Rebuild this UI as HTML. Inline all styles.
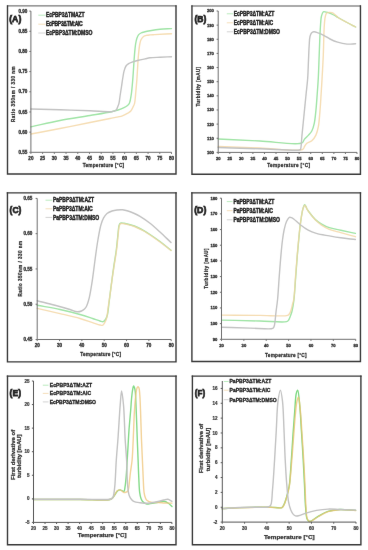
<!DOCTYPE html>
<html><head><meta charset="utf-8"><style>
html,body{margin:0;padding:0;background:#fff;}
body{width:368px;height:550px;overflow:hidden;}
svg{display:block;font-family:"Liberation Sans", sans-serif;}
</style></head><body>
<svg width="368" height="550" viewBox="0 0 368 550">
<defs><filter id="bl" x="0" y="0" width="368" height="550" filterUnits="userSpaceOnUse" primitiveUnits="userSpaceOnUse" color-interpolation-filters="sRGB"><feConvolveMatrix order="3" kernelMatrix="0.00163 0.03713 0.00163 0.03713 0.84497 0.03713 0.00163 0.03713 0.00163" edgeMode="duplicate" preserveAlpha="true"/></filter></defs>
<rect width="368" height="550" fill="#fff"/>
<g filter="url(#bl)">
<rect width="368" height="550" fill="#fff"/>
<path d="M7.50,5.90 V174.00 M176.00,5.90 V174.00 M7.50,174.00 H176.00" fill="none" stroke="#383838" stroke-width="1.40" stroke-linecap="square"/>
<path d="M7.50,5.90 H176.00" fill="none" stroke="#383838" stroke-width="0.85" stroke-linecap="square"/>
<path d="M30.90,126.90 C40.60,124.77 50.20,122.39 60.00,120.50 C69.90,118.59 80.83,117.07 90.00,115.50 C97.77,114.17 106.43,112.81 111.50,111.70 C114.31,111.08 115.90,110.69 118.00,110.00 C120.06,109.32 122.30,108.45 124.00,107.60 C125.35,106.93 126.55,106.33 127.50,105.50 C128.34,104.77 128.95,104.15 129.50,103.00 C130.37,101.15 130.71,98.14 131.20,95.00 C131.88,90.62 132.30,84.98 132.80,79.10 C133.42,71.80 133.94,60.98 134.50,54.50 C134.87,50.26 135.11,46.97 135.60,44.00 C135.97,41.77 136.33,39.83 136.90,38.20 C137.35,36.92 137.78,35.78 138.50,34.90 C139.17,34.08 140.02,33.50 141.00,33.00 C142.13,32.42 143.58,32.15 145.00,31.80 C146.57,31.41 148.04,31.14 150.00,30.80 C152.76,30.32 156.54,29.66 160.00,29.30 C163.69,28.91 167.67,28.83 171.50,28.60" fill="none" stroke="#a0e4a6" stroke-width="1.40" stroke-linejoin="round" stroke-linecap="round" opacity="1.00"/>
<path d="M30.90,134.00 C40.60,132.17 50.23,130.40 60.00,128.50 C69.93,126.57 81.01,124.30 90.00,122.50 C97.34,121.03 104.13,119.73 110.00,118.50 C114.63,117.53 119.16,116.91 122.40,115.80 C124.62,115.03 126.30,114.10 127.80,113.20 C128.98,112.49 129.96,111.96 130.80,111.00 C131.73,109.94 132.36,108.29 133.00,107.00 C133.58,105.83 134.09,105.11 134.50,103.60 C135.22,100.92 135.41,95.97 135.80,92.00 C136.21,87.82 136.52,84.09 136.90,79.10 C137.42,72.21 137.89,60.97 138.50,54.50 C138.90,50.26 139.25,46.70 139.80,44.00 C140.15,42.27 140.37,41.06 141.00,39.80 C141.61,38.57 142.46,37.25 143.50,36.50 C144.48,35.79 145.87,35.57 147.00,35.30 C148.03,35.06 148.90,35.01 150.00,34.90 C151.35,34.77 152.52,34.72 154.50,34.60 C158.35,34.37 165.83,34.00 171.50,33.70" fill="none" stroke="#f2d4a0" stroke-width="1.40" stroke-linejoin="round" stroke-linecap="round" opacity="0.80"/>
<path d="M30.90,109.00 C40.60,109.27 50.23,109.50 60.00,109.80 C69.92,110.10 80.83,110.46 90.00,110.80 C97.76,111.09 107.76,111.96 111.50,111.70 C112.84,111.61 113.37,111.52 114.20,111.20 C115.00,110.88 115.82,110.48 116.40,109.80 C117.08,109.00 117.37,107.57 117.80,106.50 C118.20,105.51 118.57,104.85 118.90,103.60 C119.45,101.51 119.77,97.79 120.20,95.00 C120.60,92.36 121.00,89.95 121.40,87.30 C121.83,84.47 122.23,81.32 122.70,78.50 C123.14,75.87 123.47,73.13 124.10,70.90 C124.62,69.06 125.12,67.27 126.00,66.00 C126.73,64.95 127.70,64.23 128.70,63.60 C129.70,62.97 130.70,62.66 132.00,62.20 C133.79,61.56 136.32,60.85 138.50,60.30 C140.66,59.75 142.98,59.34 145.00,58.90 C146.78,58.51 148.03,58.07 150.00,57.80 C152.75,57.42 156.55,57.38 160.00,57.20 C163.70,57.01 167.67,56.87 171.50,56.70" fill="none" stroke="#c2c2c2" stroke-width="1.40" stroke-linejoin="round" stroke-linecap="round" opacity="1.00"/>
<path d="M30.90,11.10 V152.30 H171.50" fill="none" stroke="#6e6e6e" stroke-width="1"/>
<text transform="translate(30.90 160.00) scale(1.000 1)" font-size="4.60" text-anchor="middle" font-weight="bold" fill="#303030" stroke="#303030" stroke-width="0.30">20</text>
<text transform="translate(42.62 160.00) scale(1.000 1)" font-size="4.60" text-anchor="middle" font-weight="bold" fill="#303030" stroke="#303030" stroke-width="0.30">25</text>
<text transform="translate(54.33 160.00) scale(1.000 1)" font-size="4.60" text-anchor="middle" font-weight="bold" fill="#303030" stroke="#303030" stroke-width="0.30">30</text>
<text transform="translate(66.05 160.00) scale(1.000 1)" font-size="4.60" text-anchor="middle" font-weight="bold" fill="#303030" stroke="#303030" stroke-width="0.30">35</text>
<text transform="translate(77.77 160.00) scale(1.000 1)" font-size="4.60" text-anchor="middle" font-weight="bold" fill="#303030" stroke="#303030" stroke-width="0.30">40</text>
<text transform="translate(89.48 160.00) scale(1.000 1)" font-size="4.60" text-anchor="middle" font-weight="bold" fill="#303030" stroke="#303030" stroke-width="0.30">45</text>
<text transform="translate(101.20 160.00) scale(1.000 1)" font-size="4.60" text-anchor="middle" font-weight="bold" fill="#303030" stroke="#303030" stroke-width="0.30">50</text>
<text transform="translate(112.92 160.00) scale(1.000 1)" font-size="4.60" text-anchor="middle" font-weight="bold" fill="#303030" stroke="#303030" stroke-width="0.30">55</text>
<text transform="translate(124.63 160.00) scale(1.000 1)" font-size="4.60" text-anchor="middle" font-weight="bold" fill="#303030" stroke="#303030" stroke-width="0.30">60</text>
<text transform="translate(136.35 160.00) scale(1.000 1)" font-size="4.60" text-anchor="middle" font-weight="bold" fill="#303030" stroke="#303030" stroke-width="0.30">65</text>
<text transform="translate(148.07 160.00) scale(1.000 1)" font-size="4.60" text-anchor="middle" font-weight="bold" fill="#303030" stroke="#303030" stroke-width="0.30">70</text>
<text transform="translate(159.78 160.00) scale(1.000 1)" font-size="4.60" text-anchor="middle" font-weight="bold" fill="#303030" stroke="#303030" stroke-width="0.30">75</text>
<text transform="translate(171.50 160.00) scale(1.000 1)" font-size="4.60" text-anchor="middle" font-weight="bold" fill="#303030" stroke="#303030" stroke-width="0.30">80</text>
<text transform="translate(27.40 153.96) scale(1.000 1)" font-size="4.60" text-anchor="end" font-weight="bold" fill="#303030" stroke="#303030" stroke-width="0.30">0.55</text>
<text transform="translate(27.40 133.78) scale(1.000 1)" font-size="4.60" text-anchor="end" font-weight="bold" fill="#303030" stroke="#303030" stroke-width="0.30">0.60</text>
<text transform="translate(27.40 113.61) scale(1.000 1)" font-size="4.60" text-anchor="end" font-weight="bold" fill="#303030" stroke="#303030" stroke-width="0.30">0.65</text>
<text transform="translate(27.40 93.44) scale(1.000 1)" font-size="4.60" text-anchor="end" font-weight="bold" fill="#303030" stroke="#303030" stroke-width="0.30">0.70</text>
<text transform="translate(27.40 73.27) scale(1.000 1)" font-size="4.60" text-anchor="end" font-weight="bold" fill="#303030" stroke="#303030" stroke-width="0.30">0.75</text>
<text transform="translate(27.40 53.10) scale(1.000 1)" font-size="4.60" text-anchor="end" font-weight="bold" fill="#303030" stroke="#303030" stroke-width="0.30">0.80</text>
<text transform="translate(27.40 32.93) scale(1.000 1)" font-size="4.60" text-anchor="end" font-weight="bold" fill="#303030" stroke="#303030" stroke-width="0.30">0.85</text>
<text transform="translate(27.40 12.76) scale(1.000 1)" font-size="4.60" text-anchor="end" font-weight="bold" fill="#303030" stroke="#303030" stroke-width="0.30">0.90</text>
<path d="M30.90,152.30 v1.6 M42.62,152.30 v1.6 M54.33,152.30 v1.6 M66.05,152.30 v1.6 M77.77,152.30 v1.6 M89.48,152.30 v1.6 M101.20,152.30 v1.6 M112.92,152.30 v1.6 M124.63,152.30 v1.6 M136.35,152.30 v1.6 M148.07,152.30 v1.6 M159.78,152.30 v1.6 M171.50,152.30 v1.6 M30.90,152.30 h-1.6 M30.90,132.13 h-1.6 M30.90,111.96 h-1.6 M30.90,91.79 h-1.6 M30.90,71.61 h-1.6 M30.90,51.44 h-1.6 M30.90,31.27 h-1.6 M30.90,11.10 h-1.6" stroke="#6e6e6e" stroke-width="1"/>
<text x="15.25" y="22.10" font-size="9.70" text-anchor="middle" font-weight="bold" fill="#222" stroke="#222" stroke-width="0.75" textLength="12.10" lengthAdjust="spacingAndGlyphs">(A)</text>
<line x1="38.30" y1="15.20" x2="45.60" y2="15.20" stroke="#a0e4a6" stroke-width="0.9" opacity="0.8"/>
<text transform="translate(46.00 17.47) scale(0.800 1)" font-size="6.30" text-anchor="start" font-weight="bold" fill="#222" stroke="#222" stroke-width="0.42" textLength="48.12" lengthAdjust="spacing">EcPBP3ΔTMAZT</text>
<line x1="38.30" y1="24.20" x2="45.60" y2="24.20" stroke="#f2d4a0" stroke-width="0.9" opacity="0.8"/>
<text transform="translate(46.00 26.47) scale(0.800 1)" font-size="6.30" text-anchor="start" font-weight="bold" fill="#222" stroke="#222" stroke-width="0.42" textLength="45.88" lengthAdjust="spacing">EcPBP3ΔTM:AIC</text>
<line x1="38.30" y1="33.00" x2="45.60" y2="33.00" stroke="#c2c2c2" stroke-width="0.9" opacity="0.8"/>
<text transform="translate(46.00 35.27) scale(0.800 1)" font-size="6.30" text-anchor="start" font-weight="bold" fill="#222" stroke="#222" stroke-width="0.42" textLength="58.00" lengthAdjust="spacing">EcPBP3ΔTM:DMSO</text>
<text transform="translate(103.40 167.22) scale(0.850 1)" font-size="5.60" text-anchor="middle" font-weight="bold" fill="#303030" stroke="#303030" stroke-width="0.28" textLength="48.82" lengthAdjust="spacing">Temperature [°C]</text>
<text transform="translate(15.00 94.30) rotate(-90) scale(0.850 1)" font-size="5.30" text-anchor="middle" font-weight="bold" fill="#303030" stroke="#303030" stroke-width="0.28" textLength="65.41" lengthAdjust="spacing">Ratio 350nm / 330 nm</text>
<path d="M191.95,6.00 V174.20 M360.45,6.00 V174.20 M191.95,174.20 H360.45" fill="none" stroke="#383838" stroke-width="1.40" stroke-linecap="square"/>
<path d="M191.95,6.00 H360.45" fill="none" stroke="#383838" stroke-width="0.85" stroke-linecap="square"/>
<path d="M218.20,139.00 C232.13,139.67 246.05,140.35 260.00,141.00 C273.98,141.65 296.63,145.64 302.00,142.90 C303.77,142.00 303.50,140.33 304.50,139.10 C305.62,137.72 307.26,136.48 308.50,135.10 C309.69,133.77 310.90,132.67 311.80,131.00 C312.89,128.98 313.56,126.45 314.20,123.60 C315.03,119.91 315.42,115.18 315.90,110.60 C316.44,105.48 316.80,99.73 317.20,94.30 C317.60,88.87 317.99,83.90 318.30,78.00 C318.67,70.99 318.87,63.04 319.20,55.00 C319.56,46.12 319.89,34.19 320.40,27.00 C320.72,22.49 320.79,18.76 321.50,16.00 C321.96,14.23 322.38,12.34 323.30,11.80 C324.01,11.39 325.08,11.94 326.00,12.10 C326.98,12.27 327.91,12.42 329.00,12.80 C330.41,13.29 332.19,14.21 333.70,15.00 C335.18,15.78 336.30,16.53 338.00,17.50 C340.45,18.89 344.02,20.90 347.00,22.50 C349.89,24.06 352.73,25.50 355.60,27.00" fill="none" stroke="#a0e4a6" stroke-width="1.40" stroke-linejoin="round" stroke-linecap="round" opacity="1.00"/>
<path d="M218.20,146.50 C232.13,147.00 245.98,147.52 260.00,148.00 C274.18,148.49 298.10,151.99 302.80,149.40 C304.12,148.67 303.86,147.48 304.50,146.50 C305.21,145.42 305.82,144.11 306.90,143.20 C308.15,142.15 310.37,142.01 311.80,140.80 C313.43,139.43 314.84,137.27 315.90,135.10 C317.07,132.70 317.66,130.13 318.30,126.90 C319.18,122.42 319.53,116.04 320.00,110.60 C320.47,105.17 320.75,99.73 321.10,94.30 C321.45,88.87 321.77,83.90 322.10,78.00 C322.50,70.99 322.96,63.05 323.30,55.00 C323.67,46.13 323.74,33.98 324.20,27.00 C324.48,22.82 324.64,19.50 325.20,17.00 C325.55,15.44 325.75,14.06 326.50,13.30 C327.12,12.68 328.12,12.51 329.00,12.40 C329.94,12.28 331.08,12.39 332.00,12.70 C332.91,13.00 333.63,13.54 334.50,14.20 C335.61,15.04 336.47,16.38 338.00,17.50 C340.23,19.13 344.02,20.90 347.00,22.50 C349.89,24.06 352.73,25.50 355.60,27.00" fill="none" stroke="#f2d4a0" stroke-width="1.40" stroke-linejoin="round" stroke-linecap="round" opacity="0.80"/>
<path d="M218.20,147.50 C232.13,147.93 246.26,148.38 260.00,148.80 C273.35,149.21 296.07,150.83 299.50,150.00 C300.05,149.87 300.13,149.90 300.40,149.50 C301.40,147.99 301.45,140.22 302.00,135.00 C302.64,128.87 303.33,121.67 304.00,115.00 C304.67,108.33 305.36,101.40 306.00,95.00 C306.59,89.10 307.28,83.75 307.70,78.00 C308.13,72.09 308.24,65.73 308.50,60.00 C308.74,54.77 308.90,49.29 309.20,45.00 C309.43,41.76 309.44,38.68 310.00,36.50 C310.37,35.04 310.77,33.79 311.50,33.00 C312.11,32.35 312.89,31.91 313.80,31.80 C314.97,31.65 316.49,32.28 318.00,32.80 C319.89,33.45 322.19,34.56 324.20,35.60 C326.19,36.63 327.90,37.95 330.00,39.00 C332.33,40.17 334.89,41.36 337.60,42.20 C340.53,43.10 343.92,43.85 347.00,44.10 C349.92,44.34 352.73,43.90 355.60,43.80" fill="none" stroke="#c2c2c2" stroke-width="1.40" stroke-linejoin="round" stroke-linecap="round" opacity="1.00"/>
<path d="M218.20,11.00 V152.40 H357.00" fill="none" stroke="#6e6e6e" stroke-width="1"/>
<text transform="translate(218.20 160.00) scale(1.000 1)" font-size="4.15" text-anchor="middle" font-weight="bold" fill="#303030" stroke="#303030" stroke-width="0.30">20</text>
<text transform="translate(229.77 160.00) scale(1.000 1)" font-size="4.15" text-anchor="middle" font-weight="bold" fill="#303030" stroke="#303030" stroke-width="0.30">25</text>
<text transform="translate(241.33 160.00) scale(1.000 1)" font-size="4.15" text-anchor="middle" font-weight="bold" fill="#303030" stroke="#303030" stroke-width="0.30">30</text>
<text transform="translate(252.90 160.00) scale(1.000 1)" font-size="4.15" text-anchor="middle" font-weight="bold" fill="#303030" stroke="#303030" stroke-width="0.30">35</text>
<text transform="translate(264.47 160.00) scale(1.000 1)" font-size="4.15" text-anchor="middle" font-weight="bold" fill="#303030" stroke="#303030" stroke-width="0.30">40</text>
<text transform="translate(276.03 160.00) scale(1.000 1)" font-size="4.15" text-anchor="middle" font-weight="bold" fill="#303030" stroke="#303030" stroke-width="0.30">45</text>
<text transform="translate(287.60 160.00) scale(1.000 1)" font-size="4.15" text-anchor="middle" font-weight="bold" fill="#303030" stroke="#303030" stroke-width="0.30">50</text>
<text transform="translate(299.17 160.00) scale(1.000 1)" font-size="4.15" text-anchor="middle" font-weight="bold" fill="#303030" stroke="#303030" stroke-width="0.30">55</text>
<text transform="translate(310.73 160.00) scale(1.000 1)" font-size="4.15" text-anchor="middle" font-weight="bold" fill="#303030" stroke="#303030" stroke-width="0.30">60</text>
<text transform="translate(322.30 160.00) scale(1.000 1)" font-size="4.15" text-anchor="middle" font-weight="bold" fill="#303030" stroke="#303030" stroke-width="0.30">65</text>
<text transform="translate(333.87 160.00) scale(1.000 1)" font-size="4.15" text-anchor="middle" font-weight="bold" fill="#303030" stroke="#303030" stroke-width="0.30">70</text>
<text transform="translate(345.43 160.00) scale(1.000 1)" font-size="4.15" text-anchor="middle" font-weight="bold" fill="#303030" stroke="#303030" stroke-width="0.30">75</text>
<text transform="translate(357.00 160.00) scale(1.000 1)" font-size="4.15" text-anchor="middle" font-weight="bold" fill="#303030" stroke="#303030" stroke-width="0.30">80</text>
<text transform="translate(213.80 153.89) scale(1.000 1)" font-size="4.15" text-anchor="end" font-weight="bold" fill="#303030" stroke="#303030" stroke-width="0.30">100</text>
<text transform="translate(213.80 139.75) scale(1.000 1)" font-size="4.15" text-anchor="end" font-weight="bold" fill="#303030" stroke="#303030" stroke-width="0.30">110</text>
<text transform="translate(213.80 125.61) scale(1.000 1)" font-size="4.15" text-anchor="end" font-weight="bold" fill="#303030" stroke="#303030" stroke-width="0.30">120</text>
<text transform="translate(213.80 111.47) scale(1.000 1)" font-size="4.15" text-anchor="end" font-weight="bold" fill="#303030" stroke="#303030" stroke-width="0.30">130</text>
<text transform="translate(213.80 97.33) scale(1.000 1)" font-size="4.15" text-anchor="end" font-weight="bold" fill="#303030" stroke="#303030" stroke-width="0.30">140</text>
<text transform="translate(213.80 83.19) scale(1.000 1)" font-size="4.15" text-anchor="end" font-weight="bold" fill="#303030" stroke="#303030" stroke-width="0.30">150</text>
<text transform="translate(213.80 69.05) scale(1.000 1)" font-size="4.15" text-anchor="end" font-weight="bold" fill="#303030" stroke="#303030" stroke-width="0.30">160</text>
<text transform="translate(213.80 54.91) scale(1.000 1)" font-size="4.15" text-anchor="end" font-weight="bold" fill="#303030" stroke="#303030" stroke-width="0.30">170</text>
<text transform="translate(213.80 40.77) scale(1.000 1)" font-size="4.15" text-anchor="end" font-weight="bold" fill="#303030" stroke="#303030" stroke-width="0.30">180</text>
<text transform="translate(213.80 26.63) scale(1.000 1)" font-size="4.15" text-anchor="end" font-weight="bold" fill="#303030" stroke="#303030" stroke-width="0.30">190</text>
<text transform="translate(213.80 12.49) scale(1.000 1)" font-size="4.15" text-anchor="end" font-weight="bold" fill="#303030" stroke="#303030" stroke-width="0.30">200</text>
<path d="M218.20,152.40 v1.6 M229.77,152.40 v1.6 M241.33,152.40 v1.6 M252.90,152.40 v1.6 M264.47,152.40 v1.6 M276.03,152.40 v1.6 M287.60,152.40 v1.6 M299.17,152.40 v1.6 M310.73,152.40 v1.6 M322.30,152.40 v1.6 M333.87,152.40 v1.6 M345.43,152.40 v1.6 M357.00,152.40 v1.6 M218.20,152.40 h-1.6 M218.20,138.26 h-1.6 M218.20,124.12 h-1.6 M218.20,109.98 h-1.6 M218.20,95.84 h-1.6 M218.20,81.70 h-1.6 M218.20,67.56 h-1.6 M218.20,53.42 h-1.6 M218.20,39.28 h-1.6 M218.20,25.14 h-1.6 M218.20,11.00 h-1.6" stroke="#6e6e6e" stroke-width="1"/>
<text x="200.35" y="22.10" font-size="9.70" text-anchor="middle" font-weight="bold" fill="#222" stroke="#222" stroke-width="0.75" textLength="11.90" lengthAdjust="spacingAndGlyphs">(B)</text>
<line x1="226.80" y1="13.80" x2="233.00" y2="13.80" stroke="#a0e4a6" stroke-width="0.9" opacity="0.8"/>
<text transform="translate(233.80 16.07) scale(0.800 1)" font-size="6.30" text-anchor="start" font-weight="bold" fill="#222" stroke="#222" stroke-width="0.42" textLength="50.62" lengthAdjust="spacing">EcPBP3ΔTM:AZT</text>
<line x1="226.80" y1="22.80" x2="233.00" y2="22.80" stroke="#f2d4a0" stroke-width="0.9" opacity="0.8"/>
<text transform="translate(233.80 25.07) scale(0.800 1)" font-size="6.30" text-anchor="start" font-weight="bold" fill="#222" stroke="#222" stroke-width="0.42" textLength="49.25" lengthAdjust="spacing">EcPBP3ΔTM:AIC</text>
<line x1="226.80" y1="31.80" x2="233.00" y2="31.80" stroke="#c2c2c2" stroke-width="0.9" opacity="0.8"/>
<text transform="translate(233.80 34.07) scale(0.800 1)" font-size="6.30" text-anchor="start" font-weight="bold" fill="#222" stroke="#222" stroke-width="0.42" textLength="57.75" lengthAdjust="spacing">EcPBP3ΔTM:DMSO</text>
<text transform="translate(288.60 167.02) scale(0.850 1)" font-size="5.60" text-anchor="middle" font-weight="bold" fill="#303030" stroke="#303030" stroke-width="0.28" textLength="50.47" lengthAdjust="spacing">Temperature [°C]</text>
<text transform="translate(199.70 86.70) rotate(-90) scale(0.850 1)" font-size="5.30" text-anchor="middle" font-weight="bold" fill="#303030" stroke="#303030" stroke-width="0.28" textLength="46.59" lengthAdjust="spacing">Turbidity [mAU]</text>
<path d="M7.45,192.90 V361.90 M176.00,192.90 V361.90 M7.45,361.90 H176.00" fill="none" stroke="#383838" stroke-width="1.40" stroke-linecap="square"/>
<path d="M7.45,192.90 H176.00" fill="none" stroke="#383838" stroke-width="1.40" stroke-linecap="square"/>
<path d="M37.20,305.30 C44.80,306.70 52.67,307.91 60.00,309.50 C66.91,311.00 74.12,312.83 80.00,314.50 C84.71,315.83 88.96,317.31 92.60,318.50 C95.40,319.42 98.03,320.45 100.00,321.00 C101.28,321.35 102.28,321.96 103.20,321.70 C104.11,321.44 104.86,320.44 105.50,319.50 C106.28,318.37 106.80,317.04 107.30,315.20 C108.12,312.21 108.47,307.07 109.00,303.00 C109.53,298.94 109.97,294.91 110.50,290.80 C111.04,286.58 111.64,282.17 112.20,278.00 C112.74,274.01 113.19,270.52 113.80,266.30 C114.52,261.31 115.62,255.23 116.30,250.00 C116.93,245.16 117.29,240.38 117.80,236.00 C118.26,232.11 118.40,227.10 119.20,225.00 C119.56,224.04 119.84,223.43 120.50,223.10 C121.32,222.70 122.86,223.15 124.00,223.30 C125.12,223.45 126.00,223.68 127.30,224.00 C129.23,224.47 131.92,225.04 134.40,226.00 C137.37,227.15 141.02,229.16 143.80,230.70 C146.11,231.98 147.71,233.00 150.00,234.50 C152.96,236.44 156.62,238.99 160.00,241.50 C163.62,244.19 167.33,247.30 171.00,250.20" fill="none" stroke="#a0e4a6" stroke-width="1.40" stroke-linejoin="round" stroke-linecap="round" opacity="1.00"/>
<path d="M37.20,308.40 C44.80,310.13 52.66,311.86 60.00,313.60 C66.89,315.23 74.13,316.83 80.00,318.50 C84.71,319.84 88.96,321.42 92.60,322.60 C95.39,323.51 98.20,324.60 100.00,325.00 C101.01,325.22 101.69,325.56 102.40,325.30 C103.21,325.00 103.88,323.96 104.50,323.00 C105.29,321.80 105.93,320.45 106.50,318.50 C107.44,315.25 107.83,309.50 108.50,305.00 C109.17,300.50 109.88,295.96 110.50,291.50 C111.11,287.13 111.60,282.74 112.20,278.50 C112.77,274.42 113.34,270.79 114.00,266.50 C114.76,261.55 115.82,255.66 116.50,250.50 C117.13,245.69 117.49,240.88 118.00,236.50 C118.46,232.61 118.60,227.60 119.40,225.50 C119.76,224.54 120.05,223.92 120.70,223.60 C121.48,223.22 122.91,223.65 124.00,223.80 C125.11,223.95 126.00,224.18 127.30,224.50 C129.23,224.97 131.91,225.56 134.40,226.50 C137.36,227.62 141.03,229.45 143.80,231.00 C146.13,232.30 147.70,233.46 150.00,235.00 C152.95,236.99 156.62,239.51 160.00,242.00 C163.61,244.66 167.33,247.67 171.00,250.50" fill="none" stroke="#f2d4a0" stroke-width="1.40" stroke-linejoin="round" stroke-linecap="round" opacity="0.80"/>
<path d="M37.20,300.70 C43.13,302.20 49.33,303.67 55.00,305.20 C60.23,306.61 65.93,308.26 70.00,309.50 C72.81,310.36 75.00,311.66 77.10,311.80 C78.73,311.91 80.22,311.52 81.50,311.00 C82.65,310.54 83.67,309.78 84.50,309.00 C85.28,308.27 85.89,307.41 86.40,306.50 C86.92,305.58 87.19,304.67 87.60,303.50 C88.16,301.89 88.74,300.09 89.30,297.70 C90.18,293.97 91.13,288.05 91.90,283.20 C92.67,278.35 93.25,273.46 93.90,268.60 C94.55,263.76 95.12,258.94 95.80,254.10 C96.48,249.24 97.15,244.35 98.00,239.50 C98.85,234.65 99.76,228.94 100.90,225.00 C101.71,222.18 102.47,219.92 103.60,217.90 C104.57,216.18 105.60,214.65 107.00,213.50 C108.40,212.35 110.29,211.59 112.00,211.00 C113.63,210.44 115.28,210.20 117.00,210.00 C118.81,209.79 120.76,209.63 122.60,209.80 C124.43,209.97 126.15,210.44 128.00,211.00 C130.07,211.63 132.36,212.59 134.40,213.50 C136.35,214.37 137.91,215.07 140.00,216.30 C142.91,218.02 146.74,220.66 150.00,223.20 C153.41,225.86 156.62,228.90 160.00,232.00 C163.61,235.31 167.33,239.00 171.00,242.50" fill="none" stroke="#c2c2c2" stroke-width="1.40" stroke-linejoin="round" stroke-linecap="round" opacity="1.00"/>
<path d="M37.20,198.40 V339.50 H171.20" fill="none" stroke="#6e6e6e" stroke-width="1"/>
<text transform="translate(37.20 347.00) scale(1.000 1)" font-size="4.60" text-anchor="middle" font-weight="bold" fill="#303030" stroke="#303030" stroke-width="0.30">20</text>
<text transform="translate(59.53 347.00) scale(1.000 1)" font-size="4.60" text-anchor="middle" font-weight="bold" fill="#303030" stroke="#303030" stroke-width="0.30">30</text>
<text transform="translate(81.87 347.00) scale(1.000 1)" font-size="4.60" text-anchor="middle" font-weight="bold" fill="#303030" stroke="#303030" stroke-width="0.30">40</text>
<text transform="translate(104.20 347.00) scale(1.000 1)" font-size="4.60" text-anchor="middle" font-weight="bold" fill="#303030" stroke="#303030" stroke-width="0.30">50</text>
<text transform="translate(126.53 347.00) scale(1.000 1)" font-size="4.60" text-anchor="middle" font-weight="bold" fill="#303030" stroke="#303030" stroke-width="0.30">60</text>
<text transform="translate(148.87 347.00) scale(1.000 1)" font-size="4.60" text-anchor="middle" font-weight="bold" fill="#303030" stroke="#303030" stroke-width="0.30">70</text>
<text transform="translate(171.20 347.00) scale(1.000 1)" font-size="4.60" text-anchor="middle" font-weight="bold" fill="#303030" stroke="#303030" stroke-width="0.30">80</text>
<text transform="translate(32.40 341.16) scale(1.000 1)" font-size="4.60" text-anchor="end" font-weight="bold" fill="#303030" stroke="#303030" stroke-width="0.30">0.45</text>
<text transform="translate(32.40 305.88) scale(1.000 1)" font-size="4.60" text-anchor="end" font-weight="bold" fill="#303030" stroke="#303030" stroke-width="0.30">0.50</text>
<text transform="translate(32.40 270.61) scale(1.000 1)" font-size="4.60" text-anchor="end" font-weight="bold" fill="#303030" stroke="#303030" stroke-width="0.30">0.55</text>
<text transform="translate(32.40 235.33) scale(1.000 1)" font-size="4.60" text-anchor="end" font-weight="bold" fill="#303030" stroke="#303030" stroke-width="0.30">0.60</text>
<text transform="translate(32.40 200.06) scale(1.000 1)" font-size="4.60" text-anchor="end" font-weight="bold" fill="#303030" stroke="#303030" stroke-width="0.30">0.65</text>
<path d="M37.20,339.50 v1.6 M59.53,339.50 v1.6 M81.87,339.50 v1.6 M104.20,339.50 v1.6 M126.53,339.50 v1.6 M148.87,339.50 v1.6 M171.20,339.50 v1.6 M37.20,339.50 h-1.6 M37.20,304.23 h-1.6 M37.20,268.95 h-1.6 M37.20,233.67 h-1.6 M37.20,198.40 h-1.6" stroke="#6e6e6e" stroke-width="1"/>
<text x="15.45" y="212.50" font-size="9.70" text-anchor="middle" font-weight="bold" fill="#222" stroke="#222" stroke-width="0.75" textLength="11.70" lengthAdjust="spacingAndGlyphs">(C)</text>
<line x1="45.50" y1="200.20" x2="52.20" y2="200.20" stroke="#a0e4a6" stroke-width="0.9" opacity="0.8"/>
<text transform="translate(52.90 202.47) scale(0.800 1)" font-size="6.30" text-anchor="start" font-weight="bold" fill="#222" stroke="#222" stroke-width="0.42" textLength="51.62" lengthAdjust="spacing">PaPBP3ΔTM:AZT</text>
<line x1="45.50" y1="208.80" x2="52.20" y2="208.80" stroke="#f2d4a0" stroke-width="0.9" opacity="0.8"/>
<text transform="translate(52.90 211.07) scale(0.800 1)" font-size="6.30" text-anchor="start" font-weight="bold" fill="#222" stroke="#222" stroke-width="0.42" textLength="49.75" lengthAdjust="spacing">PaPBP3ΔTM:AIC</text>
<line x1="45.50" y1="217.40" x2="52.20" y2="217.40" stroke="#c2c2c2" stroke-width="0.9" opacity="0.8"/>
<text transform="translate(52.90 219.67) scale(0.800 1)" font-size="6.30" text-anchor="start" font-weight="bold" fill="#222" stroke="#222" stroke-width="0.42" textLength="58.00" lengthAdjust="spacing">PaPBP3ΔTM:DMSO</text>
<text transform="translate(100.70 356.02) scale(0.850 1)" font-size="5.60" text-anchor="middle" font-weight="bold" fill="#303030" stroke="#303030" stroke-width="0.28" textLength="47.88" lengthAdjust="spacing">Temperature [°C]</text>
<text transform="translate(22.20 268.80) rotate(-90) scale(0.850 1)" font-size="5.30" text-anchor="middle" font-weight="bold" fill="#303030" stroke="#303030" stroke-width="0.28" textLength="65.41" lengthAdjust="spacing">Ratio 350nm / 330 nm</text>
<path d="M191.90,192.90 V361.50 M360.45,192.90 V361.50 M191.90,361.50 H360.45" fill="none" stroke="#383838" stroke-width="1.40" stroke-linecap="square"/>
<path d="M191.90,192.90 H360.45" fill="none" stroke="#383838" stroke-width="1.40" stroke-linecap="square"/>
<path d="M221.50,320.10 C234.33,320.40 248.35,320.71 260.00,321.00 C269.68,321.24 282.93,322.85 286.60,321.70 C287.69,321.36 287.97,320.95 288.50,320.30 C289.16,319.49 289.50,318.23 290.00,317.00 C290.60,315.52 291.29,313.83 291.80,312.00 C292.39,309.88 292.82,307.22 293.20,305.00 C293.54,303.01 293.73,301.83 294.00,299.30 C294.54,294.31 295.14,284.36 295.70,277.00 C296.24,269.79 296.74,262.38 297.30,255.60 C297.81,249.44 298.34,243.64 298.90,238.00 C299.41,232.77 299.81,227.85 300.50,222.90 C301.18,218.06 302.03,211.83 303.00,208.60 C303.53,206.85 304.12,204.75 304.70,204.70 C305.13,204.66 305.62,205.91 306.00,206.60 C306.40,207.33 306.52,208.13 307.00,209.00 C307.66,210.20 308.81,211.68 309.80,213.00 C310.81,214.35 311.89,215.75 313.00,217.00 C314.06,218.21 315.03,219.32 316.30,220.40 C317.72,221.61 319.31,222.70 321.20,223.80 C323.52,225.15 326.30,226.67 329.30,227.70 C332.74,228.88 336.74,229.31 340.80,230.20 C345.38,231.20 350.53,232.33 355.40,233.40" fill="none" stroke="#a0e4a6" stroke-width="1.40" stroke-linejoin="round" stroke-linecap="round" opacity="1.00"/>
<path d="M221.50,315.10 C234.33,315.20 248.22,315.38 260.00,315.40 C269.99,315.42 284.03,316.70 287.70,315.30 C288.78,314.89 288.98,314.42 289.50,313.70 C290.17,312.77 290.62,311.40 291.10,310.00 C291.69,308.26 292.13,305.88 292.60,304.00 C293.02,302.34 293.44,301.47 293.80,299.30 C294.57,294.64 294.93,284.36 295.50,277.00 C296.06,269.79 296.62,262.38 297.20,255.60 C297.72,249.45 298.23,243.63 298.80,238.00 C299.33,232.80 299.78,227.96 300.50,223.00 C301.22,218.06 302.03,211.33 303.10,208.30 C303.62,206.82 304.25,205.23 304.80,205.20 C305.24,205.18 305.73,206.43 306.10,207.10 C306.47,207.77 306.56,208.41 307.00,209.20 C307.64,210.35 308.81,211.88 309.80,213.20 C310.81,214.55 311.90,215.92 313.00,217.20 C314.07,218.45 315.04,219.61 316.30,220.80 C317.73,222.15 319.30,223.51 321.20,224.80 C323.50,226.36 326.28,228.05 329.30,229.30 C332.73,230.72 336.74,231.45 340.80,232.60 C345.37,233.90 350.53,235.33 355.40,236.70" fill="none" stroke="#f2d4a0" stroke-width="1.40" stroke-linejoin="round" stroke-linecap="round" opacity="0.80"/>
<path d="M221.50,327.30 C231.00,327.57 241.18,327.85 250.00,328.10 C257.64,328.31 268.15,329.23 271.40,328.70 C272.40,328.54 272.81,328.46 273.30,328.00 C273.86,327.47 274.07,326.70 274.40,325.50 C275.13,322.82 275.46,316.43 276.00,312.00 C276.53,307.70 277.12,304.13 277.60,299.30 C278.23,292.91 278.64,284.36 279.20,277.00 C279.74,269.79 280.30,262.17 280.90,255.60 C281.41,249.99 281.88,244.68 282.50,240.00 C283.01,236.15 283.47,232.74 284.20,229.50 C284.84,226.63 285.49,223.68 286.50,221.50 C287.29,219.80 288.26,217.77 289.30,217.30 C289.99,216.99 290.77,217.33 291.50,217.60 C292.34,217.91 293.02,218.46 294.00,219.20 C295.61,220.41 297.79,222.76 300.00,224.50 C302.47,226.44 305.39,228.69 308.20,230.20 C310.83,231.61 313.24,232.51 316.30,233.40 C320.08,234.50 325.09,235.15 329.30,235.90 C333.25,236.61 336.73,237.23 340.80,237.80 C345.37,238.44 350.53,238.93 355.40,239.50" fill="none" stroke="#c2c2c2" stroke-width="1.40" stroke-linejoin="round" stroke-linecap="round" opacity="1.00"/>
<path d="M221.50,198.20 V339.30 H355.70" fill="none" stroke="#6e6e6e" stroke-width="1"/>
<text transform="translate(221.50 347.00) scale(1.000 1)" font-size="4.15" text-anchor="middle" font-weight="bold" fill="#303030" stroke="#303030" stroke-width="0.30">20</text>
<text transform="translate(243.87 347.00) scale(1.000 1)" font-size="4.15" text-anchor="middle" font-weight="bold" fill="#303030" stroke="#303030" stroke-width="0.30">30</text>
<text transform="translate(266.23 347.00) scale(1.000 1)" font-size="4.15" text-anchor="middle" font-weight="bold" fill="#303030" stroke="#303030" stroke-width="0.30">40</text>
<text transform="translate(288.60 347.00) scale(1.000 1)" font-size="4.15" text-anchor="middle" font-weight="bold" fill="#303030" stroke="#303030" stroke-width="0.30">50</text>
<text transform="translate(310.97 347.00) scale(1.000 1)" font-size="4.15" text-anchor="middle" font-weight="bold" fill="#303030" stroke="#303030" stroke-width="0.30">60</text>
<text transform="translate(333.33 347.00) scale(1.000 1)" font-size="4.15" text-anchor="middle" font-weight="bold" fill="#303030" stroke="#303030" stroke-width="0.30">70</text>
<text transform="translate(355.70 347.00) scale(1.000 1)" font-size="4.15" text-anchor="middle" font-weight="bold" fill="#303030" stroke="#303030" stroke-width="0.30">80</text>
<text transform="translate(217.30 340.79) scale(1.000 1)" font-size="4.15" text-anchor="end" font-weight="bold" fill="#303030" stroke="#303030" stroke-width="0.30">90</text>
<text transform="translate(217.30 325.12) scale(1.000 1)" font-size="4.15" text-anchor="end" font-weight="bold" fill="#303030" stroke="#303030" stroke-width="0.30">100</text>
<text transform="translate(217.30 309.44) scale(1.000 1)" font-size="4.15" text-anchor="end" font-weight="bold" fill="#303030" stroke="#303030" stroke-width="0.30">110</text>
<text transform="translate(217.30 293.76) scale(1.000 1)" font-size="4.15" text-anchor="end" font-weight="bold" fill="#303030" stroke="#303030" stroke-width="0.30">120</text>
<text transform="translate(217.30 278.08) scale(1.000 1)" font-size="4.15" text-anchor="end" font-weight="bold" fill="#303030" stroke="#303030" stroke-width="0.30">130</text>
<text transform="translate(217.30 262.41) scale(1.000 1)" font-size="4.15" text-anchor="end" font-weight="bold" fill="#303030" stroke="#303030" stroke-width="0.30">140</text>
<text transform="translate(217.30 246.73) scale(1.000 1)" font-size="4.15" text-anchor="end" font-weight="bold" fill="#303030" stroke="#303030" stroke-width="0.30">150</text>
<text transform="translate(217.30 231.05) scale(1.000 1)" font-size="4.15" text-anchor="end" font-weight="bold" fill="#303030" stroke="#303030" stroke-width="0.30">160</text>
<text transform="translate(217.30 215.37) scale(1.000 1)" font-size="4.15" text-anchor="end" font-weight="bold" fill="#303030" stroke="#303030" stroke-width="0.30">170</text>
<text transform="translate(217.30 199.69) scale(1.000 1)" font-size="4.15" text-anchor="end" font-weight="bold" fill="#303030" stroke="#303030" stroke-width="0.30">180</text>
<path d="M221.50,339.30 v1.6 M243.87,339.30 v1.6 M266.23,339.30 v1.6 M288.60,339.30 v1.6 M310.97,339.30 v1.6 M333.33,339.30 v1.6 M355.70,339.30 v1.6 M221.50,339.30 h-1.6 M221.50,323.62 h-1.6 M221.50,307.94 h-1.6 M221.50,292.27 h-1.6 M221.50,276.59 h-1.6 M221.50,260.91 h-1.6 M221.50,245.23 h-1.6 M221.50,229.56 h-1.6 M221.50,213.88 h-1.6 M221.50,198.20 h-1.6" stroke="#6e6e6e" stroke-width="1"/>
<text x="200.30" y="212.70" font-size="9.70" text-anchor="middle" font-weight="bold" fill="#222" stroke="#222" stroke-width="0.75" textLength="12.20" lengthAdjust="spacingAndGlyphs">(D)</text>
<line x1="226.80" y1="201.60" x2="232.50" y2="201.60" stroke="#a0e4a6" stroke-width="0.9" opacity="0.8"/>
<text transform="translate(233.40 203.87) scale(0.800 1)" font-size="6.30" text-anchor="start" font-weight="bold" fill="#222" stroke="#222" stroke-width="0.42" textLength="51.12" lengthAdjust="spacing">PaPBP3ΔTM:AZT</text>
<line x1="226.80" y1="210.70" x2="232.50" y2="210.70" stroke="#f2d4a0" stroke-width="0.9" opacity="0.8"/>
<text transform="translate(233.40 212.97) scale(0.800 1)" font-size="6.30" text-anchor="start" font-weight="bold" fill="#222" stroke="#222" stroke-width="0.42" textLength="49.50" lengthAdjust="spacing">PaPBP3ΔTM:AIC</text>
<line x1="226.80" y1="219.80" x2="232.50" y2="219.80" stroke="#c2c2c2" stroke-width="0.9" opacity="0.8"/>
<text transform="translate(233.40 222.07) scale(0.800 1)" font-size="6.30" text-anchor="start" font-weight="bold" fill="#222" stroke="#222" stroke-width="0.42" textLength="58.25" lengthAdjust="spacing">PaPBP3ΔTM:DMSO</text>
<text transform="translate(285.80 356.62) scale(0.850 1)" font-size="5.60" text-anchor="middle" font-weight="bold" fill="#303030" stroke="#303030" stroke-width="0.28" textLength="48.94" lengthAdjust="spacing">Temperature [°C]</text>
<text transform="translate(208.10 268.60) rotate(-90) scale(0.850 1)" font-size="5.30" text-anchor="middle" font-weight="bold" fill="#303030" stroke="#303030" stroke-width="0.28" textLength="47.53" lengthAdjust="spacing">Turbidity [mAU]</text>
<path d="M7.50,376.10 V544.80 M176.00,376.10 V544.80 M7.50,544.80 H176.00" fill="none" stroke="#383838" stroke-width="1.40" stroke-linecap="square"/>
<path d="M7.50,376.10 H176.00" fill="none" stroke="#383838" stroke-width="1.40" stroke-linecap="square"/>
<path d="M33.30,499.50 C48.87,499.50 66.15,499.50 80.00,499.50 C91.10,499.50 105.28,500.93 110.00,499.50 C111.64,499.00 112.13,498.36 113.00,497.50 C113.95,496.56 114.62,495.12 115.40,494.00 C116.12,492.96 116.64,491.69 117.50,491.00 C118.27,490.39 119.34,489.87 120.20,489.90 C121.00,489.92 121.80,490.77 122.50,491.00 C123.04,491.18 123.61,491.55 124.00,491.30 C124.64,490.89 124.70,488.94 125.00,487.20 C125.52,484.23 125.94,479.28 126.30,475.00 C126.69,470.26 126.91,464.82 127.20,460.00 C127.47,455.51 127.72,451.62 128.00,447.00 C128.32,441.71 128.58,435.89 129.00,430.00 C129.46,423.60 130.23,415.82 130.70,410.00 C131.06,405.49 131.26,401.53 131.60,398.00 C131.87,395.20 132.11,392.67 132.50,390.50 C132.81,388.80 133.17,386.05 133.60,386.00 C133.90,385.97 134.33,387.20 134.60,388.00 C134.96,389.08 135.10,390.18 135.30,392.00 C135.73,395.84 135.91,403.24 136.20,410.00 C136.58,418.73 136.96,431.01 137.30,440.00 C137.58,447.34 137.84,453.51 138.10,460.00 C138.34,466.16 138.51,472.32 138.80,478.00 C139.06,483.12 139.17,488.83 139.70,492.60 C140.04,495.02 140.44,496.92 141.00,498.50 C141.40,499.64 141.64,500.47 142.40,501.30 C143.38,502.37 145.35,503.68 146.80,504.00 C148.01,504.27 149.02,503.79 150.40,503.60 C152.27,503.34 154.78,502.88 157.00,502.50 C159.28,502.11 161.92,501.08 163.90,501.30 C165.47,501.47 166.71,502.18 168.00,503.00 C169.42,503.90 170.67,505.40 172.00,506.60" fill="none" stroke="#84da88" stroke-width="1.40" stroke-linejoin="round" stroke-linecap="round" opacity="1.00"/>
<path d="M33.30,499.50 C48.87,499.50 66.15,499.50 80.00,499.50 C91.10,499.50 105.28,500.93 110.00,499.50 C111.64,499.00 112.14,498.40 113.00,497.50 C113.98,496.47 114.61,494.72 115.40,493.50 C116.10,492.41 116.62,491.09 117.50,490.50 C118.26,489.99 119.37,489.74 120.20,489.90 C121.04,490.06 121.82,491.01 122.50,491.50 C123.06,491.90 123.43,492.47 124.00,492.60 C124.59,492.73 125.43,492.40 126.00,492.20 C126.46,492.04 126.84,491.91 127.20,491.60 C127.63,491.23 128.00,490.79 128.30,490.00 C128.93,488.35 129.05,484.58 129.40,481.70 C129.78,478.59 130.08,475.40 130.50,472.00 C130.97,468.21 131.68,464.52 132.10,460.00 C132.65,454.19 132.84,447.34 133.20,440.00 C133.64,431.01 133.96,418.28 134.50,410.00 C134.88,404.14 135.28,399.05 135.80,395.00 C136.16,392.22 136.41,389.41 137.00,388.00 C137.29,387.31 137.67,386.60 138.00,386.60 C138.33,386.60 138.73,387.31 139.00,388.00 C139.54,389.40 139.58,392.22 139.80,395.00 C140.13,399.05 140.27,404.14 140.50,410.00 C140.83,418.28 141.15,431.01 141.50,440.00 C141.79,447.34 142.11,453.51 142.40,460.00 C142.68,466.16 142.90,472.31 143.20,478.00 C143.47,483.12 143.56,489.05 144.10,492.60 C144.42,494.69 144.77,496.14 145.30,497.50 C145.72,498.57 145.97,499.45 146.80,500.20 C147.93,501.21 150.13,502.01 152.00,502.40 C154.01,502.82 156.33,502.40 158.50,502.50 C160.67,502.60 162.79,502.90 165.00,503.00 C167.29,503.10 169.67,503.07 172.00,503.10" fill="none" stroke="#efc77e" stroke-width="1.40" stroke-linejoin="round" stroke-linecap="round" opacity="0.80"/>
<path d="M33.30,499.20 C48.87,499.20 66.15,499.20 80.00,499.20 C91.10,499.20 106.08,499.84 110.00,499.20 C110.98,499.04 111.29,498.95 111.80,498.60 C112.33,498.23 112.73,497.83 113.10,497.00 C113.92,495.17 114.25,491.30 114.70,487.20 C115.45,480.41 115.70,468.68 116.30,460.00 C116.85,452.01 117.50,445.31 118.10,437.00 C118.80,427.19 119.50,413.41 120.20,404.90 C120.67,399.27 121.05,390.91 121.60,390.90 C122.15,390.89 122.97,399.17 123.50,404.90 C124.33,413.94 124.60,429.94 125.20,440.00 C125.65,447.60 126.21,452.96 126.60,460.00 C127.03,467.87 126.97,478.46 127.60,485.00 C128.01,489.26 128.29,492.89 129.20,495.50 C129.80,497.22 130.64,498.49 131.50,499.50 C132.18,500.30 132.70,500.81 133.70,501.30 C135.20,502.04 138.05,502.46 140.00,502.80 C141.64,503.08 142.98,503.25 144.60,503.30 C146.42,503.35 148.35,503.25 150.40,503.00 C152.77,502.71 155.63,502.03 158.00,501.50 C160.10,501.03 162.12,500.38 163.90,500.00 C165.36,499.69 166.59,499.11 167.90,499.30 C169.29,499.50 170.63,500.63 172.00,501.30" fill="none" stroke="#c2c2c2" stroke-width="1.40" stroke-linejoin="round" stroke-linecap="round" opacity="1.00"/>
<path d="M33.50,381.00 V522.40 H171.90" fill="none" stroke="#555555" stroke-width="1"/>
<text x="33.50" y="530.40" font-size="4.50" text-anchor="middle" font-weight="bold" fill="#303030" stroke="#303030" stroke-width="0.18">20</text>
<text x="45.03" y="530.40" font-size="4.50" text-anchor="middle" font-weight="bold" fill="#303030" stroke="#303030" stroke-width="0.18">25</text>
<text x="56.57" y="530.40" font-size="4.50" text-anchor="middle" font-weight="bold" fill="#303030" stroke="#303030" stroke-width="0.18">30</text>
<text x="68.10" y="530.40" font-size="4.50" text-anchor="middle" font-weight="bold" fill="#303030" stroke="#303030" stroke-width="0.18">35</text>
<text x="79.63" y="530.40" font-size="4.50" text-anchor="middle" font-weight="bold" fill="#303030" stroke="#303030" stroke-width="0.18">40</text>
<text x="91.17" y="530.40" font-size="4.50" text-anchor="middle" font-weight="bold" fill="#303030" stroke="#303030" stroke-width="0.18">45</text>
<text x="102.70" y="530.40" font-size="4.50" text-anchor="middle" font-weight="bold" fill="#303030" stroke="#303030" stroke-width="0.18">50</text>
<text x="114.23" y="530.40" font-size="4.50" text-anchor="middle" font-weight="bold" fill="#303030" stroke="#303030" stroke-width="0.18">55</text>
<text x="125.77" y="530.40" font-size="4.50" text-anchor="middle" font-weight="bold" fill="#303030" stroke="#303030" stroke-width="0.18">60</text>
<text x="137.30" y="530.40" font-size="4.50" text-anchor="middle" font-weight="bold" fill="#303030" stroke="#303030" stroke-width="0.18">65</text>
<text x="148.83" y="530.40" font-size="4.50" text-anchor="middle" font-weight="bold" fill="#303030" stroke="#303030" stroke-width="0.18">70</text>
<text x="160.37" y="530.40" font-size="4.50" text-anchor="middle" font-weight="bold" fill="#303030" stroke="#303030" stroke-width="0.18">75</text>
<text x="171.90" y="530.40" font-size="4.50" text-anchor="middle" font-weight="bold" fill="#303030" stroke="#303030" stroke-width="0.18">80</text>
<text x="29.60" y="524.02" font-size="4.50" text-anchor="end" font-weight="bold" fill="#303030" stroke="#303030" stroke-width="0.18">-5</text>
<text x="29.60" y="500.45" font-size="4.50" text-anchor="end" font-weight="bold" fill="#303030" stroke="#303030" stroke-width="0.18">0</text>
<text x="29.60" y="476.89" font-size="4.50" text-anchor="end" font-weight="bold" fill="#303030" stroke="#303030" stroke-width="0.18">5</text>
<text x="29.60" y="453.32" font-size="4.50" text-anchor="end" font-weight="bold" fill="#303030" stroke="#303030" stroke-width="0.18">10</text>
<text x="29.60" y="429.75" font-size="4.50" text-anchor="end" font-weight="bold" fill="#303030" stroke="#303030" stroke-width="0.18">15</text>
<text x="29.60" y="406.19" font-size="4.50" text-anchor="end" font-weight="bold" fill="#303030" stroke="#303030" stroke-width="0.18">20</text>
<text x="29.60" y="382.62" font-size="4.50" text-anchor="end" font-weight="bold" fill="#303030" stroke="#303030" stroke-width="0.18">25</text>
<path d="M33.50,522.40 v1.6 M45.03,522.40 v1.6 M56.57,522.40 v1.6 M68.10,522.40 v1.6 M79.63,522.40 v1.6 M91.17,522.40 v1.6 M102.70,522.40 v1.6 M114.23,522.40 v1.6 M125.77,522.40 v1.6 M137.30,522.40 v1.6 M148.83,522.40 v1.6 M160.37,522.40 v1.6 M171.90,522.40 v1.6 M33.50,522.40 h-1.6 M33.50,498.83 h-1.6 M33.50,475.27 h-1.6 M33.50,451.70 h-1.6 M33.50,428.13 h-1.6 M33.50,404.57 h-1.6 M33.50,381.00 h-1.6" stroke="#555555" stroke-width="1"/>
<text x="15.30" y="395.80" font-size="9.70" text-anchor="middle" font-weight="bold" fill="#222" stroke="#222" stroke-width="0.75" textLength="11.40" lengthAdjust="spacingAndGlyphs">(E)</text>
<line x1="42.80" y1="385.20" x2="48.50" y2="385.20" stroke="#a0e4a6" stroke-width="0.9" opacity="0.8"/>
<text transform="translate(49.80 387.07) scale(0.970 1)" font-size="5.20" text-anchor="start" font-weight="bold" fill="#222" stroke="#222" stroke-width="0.32" textLength="43.71" lengthAdjust="spacing">EcPBP3ΔTM:AZT</text>
<line x1="42.80" y1="393.40" x2="48.50" y2="393.40" stroke="#f2d4a0" stroke-width="0.9" opacity="0.8"/>
<text transform="translate(49.80 395.27) scale(0.970 1)" font-size="5.20" text-anchor="start" font-weight="bold" fill="#222" stroke="#222" stroke-width="0.32" textLength="42.58" lengthAdjust="spacing">EcPBP3ΔTM:AIC</text>
<line x1="42.80" y1="401.90" x2="48.50" y2="401.90" stroke="#c2c2c2" stroke-width="0.9" opacity="0.8"/>
<text transform="translate(49.80 403.77) scale(0.970 1)" font-size="5.20" text-anchor="start" font-weight="bold" fill="#222" stroke="#222" stroke-width="0.32" textLength="47.63" lengthAdjust="spacing">EcPBP3ΔTM:DMSO</text>
<text x="102.10" y="536.82" font-size="5.60" text-anchor="middle" font-weight="bold" fill="#303030" stroke="#303030" stroke-width="0.25" textLength="48.90" lengthAdjust="spacingAndGlyphs">Temperature [°C]</text>
<text x="15.30" y="454.90" font-size="6.00" text-anchor="middle" font-weight="bold" fill="#303030" stroke="#303030" stroke-width="0.25" textLength="50.20" lengthAdjust="spacingAndGlyphs" transform="rotate(-90 15.30 454.90)">First derivative of</text>
<text x="21.50" y="456.20" font-size="6.00" text-anchor="middle" font-weight="bold" fill="#303030" stroke="#303030" stroke-width="0.25" textLength="43.60" lengthAdjust="spacingAndGlyphs" transform="rotate(-90 21.50 456.20)">turbidity [mAU]</text>
<path d="M192.40,376.10 V544.70 M360.90,376.10 V544.70 M192.40,544.70 H360.90" fill="none" stroke="#383838" stroke-width="1.40" stroke-linecap="square"/>
<path d="M192.40,376.10 H360.90" fill="none" stroke="#383838" stroke-width="1.40" stroke-linecap="square"/>
<path d="M222.00,508.60 C228.00,508.27 234.27,507.82 240.00,507.60 C245.23,507.40 249.96,507.38 255.00,507.30 C260.12,507.22 265.73,507.03 270.50,507.10 C274.59,507.16 279.77,508.64 281.90,507.60 C283.07,507.03 283.27,506.03 283.90,504.80 C284.88,502.90 285.77,499.83 286.60,497.00 C287.56,493.71 288.50,490.55 289.20,486.20 C290.23,479.77 290.57,470.43 291.20,462.00 C291.88,452.80 292.47,442.19 293.10,433.10 C293.67,424.97 294.22,417.07 294.80,410.00 C295.29,403.98 295.44,396.65 296.30,393.30 C296.69,391.77 297.28,390.04 297.70,390.10 C298.62,390.23 299.21,400.42 299.80,406.50 C300.53,414.06 300.94,423.33 301.50,432.00 C302.08,441.02 302.69,450.59 303.20,459.60 C303.69,468.24 304.09,476.80 304.50,485.00 C304.89,492.70 305.04,501.16 305.60,507.40 C306.00,511.91 305.97,516.65 307.10,519.00 C307.71,520.28 308.62,521.31 309.50,521.50 C310.27,521.67 311.01,521.03 312.00,520.50 C313.70,519.60 316.08,517.51 318.50,516.10 C321.32,514.46 324.59,512.50 328.00,511.40 C331.57,510.25 335.33,509.73 339.50,509.50 C344.40,509.24 350.23,510.10 355.60,510.40" fill="none" stroke="#7cd880" stroke-width="1.40" stroke-linejoin="round" stroke-linecap="round" opacity="1.00"/>
<path d="M222.00,508.60 C228.00,508.30 234.27,507.90 240.00,507.70 C245.23,507.52 249.96,507.48 255.00,507.40 C260.12,507.32 265.73,507.13 270.50,507.20 C274.59,507.26 279.73,508.70 281.90,507.70 C283.09,507.15 283.35,506.19 284.00,505.00 C284.99,503.18 285.79,500.23 286.60,497.50 C287.54,494.31 288.48,491.17 289.20,487.00 C290.23,481.04 290.71,472.71 291.40,465.00 C292.16,456.46 292.83,446.64 293.50,438.00 C294.12,430.03 294.63,421.71 295.30,415.00 C295.82,409.75 296.19,404.13 297.00,401.00 C297.43,399.33 298.06,397.25 298.50,397.30 C299.29,397.40 299.78,405.09 300.30,410.00 C301.01,416.73 301.44,425.84 302.00,434.00 C302.58,442.49 303.20,451.42 303.70,460.00 C304.19,468.41 304.61,476.89 305.00,485.00 C305.37,492.67 305.48,501.16 306.00,507.40 C306.37,511.91 306.28,516.65 307.40,519.00 C308.01,520.28 308.92,521.31 309.80,521.50 C310.57,521.67 311.31,521.01 312.30,520.50 C313.94,519.65 316.18,517.84 318.50,516.50 C321.30,514.88 324.59,512.73 328.00,511.60 C331.56,510.42 335.33,509.93 339.50,509.70 C344.40,509.44 350.23,510.30 355.60,510.60" fill="none" stroke="#ecc472" stroke-width="1.40" stroke-linejoin="round" stroke-linecap="round" opacity="0.80"/>
<path d="M222.00,508.60 C228.00,508.23 234.27,507.73 240.00,507.50 C245.23,507.29 250.18,507.29 255.00,507.20 C259.49,507.12 265.38,507.76 268.00,507.00 C269.27,506.63 269.91,506.47 270.60,505.40 C272.15,502.99 271.92,496.01 272.50,490.00 C273.31,481.58 273.96,469.67 274.60,459.60 C275.23,449.67 275.73,439.80 276.30,430.00 C276.86,420.33 277.00,408.52 278.00,401.20 C278.63,396.60 279.65,390.09 280.40,390.10 C281.15,390.11 281.95,396.61 282.50,401.20 C283.38,408.53 283.55,420.33 284.00,430.00 C284.45,439.80 284.71,450.11 285.20,459.60 C285.66,468.39 286.16,477.37 286.80,485.00 C287.33,491.27 287.73,497.52 288.60,502.10 C289.20,505.27 289.91,507.84 290.80,510.00 C291.48,511.64 292.20,513.10 293.10,514.10 C293.81,514.89 294.61,515.52 295.50,515.80 C296.40,516.09 297.32,516.01 298.50,515.80 C300.31,515.47 302.65,514.10 305.20,513.30 C308.47,512.28 312.78,511.10 316.60,510.40 C320.38,509.71 324.15,509.25 328.00,509.10 C331.94,508.94 335.74,509.36 340.00,509.50 C344.86,509.66 350.40,509.83 355.60,510.00" fill="none" stroke="#c2c2c2" stroke-width="1.40" stroke-linejoin="round" stroke-linecap="round" opacity="1.00"/>
<path d="M222.30,381.00 V522.10 H356.00" fill="none" stroke="#555555" stroke-width="1"/>
<text x="222.30" y="530.00" font-size="4.50" text-anchor="middle" font-weight="bold" fill="#303030" stroke="#303030" stroke-width="0.18">20</text>
<text x="244.58" y="530.00" font-size="4.50" text-anchor="middle" font-weight="bold" fill="#303030" stroke="#303030" stroke-width="0.18">30</text>
<text x="266.87" y="530.00" font-size="4.50" text-anchor="middle" font-weight="bold" fill="#303030" stroke="#303030" stroke-width="0.18">40</text>
<text x="289.15" y="530.00" font-size="4.50" text-anchor="middle" font-weight="bold" fill="#303030" stroke="#303030" stroke-width="0.18">50</text>
<text x="311.43" y="530.00" font-size="4.50" text-anchor="middle" font-weight="bold" fill="#303030" stroke="#303030" stroke-width="0.18">60</text>
<text x="333.72" y="530.00" font-size="4.50" text-anchor="middle" font-weight="bold" fill="#303030" stroke="#303030" stroke-width="0.18">70</text>
<text x="356.00" y="530.00" font-size="4.50" text-anchor="middle" font-weight="bold" fill="#303030" stroke="#303030" stroke-width="0.18">80</text>
<text x="217.40" y="523.72" font-size="4.50" text-anchor="end" font-weight="bold" fill="#303030" stroke="#303030" stroke-width="0.18">-2</text>
<text x="217.40" y="508.87" font-size="4.50" text-anchor="end" font-weight="bold" fill="#303030" stroke="#303030" stroke-width="0.18">0</text>
<text x="217.40" y="494.01" font-size="4.50" text-anchor="end" font-weight="bold" fill="#303030" stroke="#303030" stroke-width="0.18">2</text>
<text x="217.40" y="479.16" font-size="4.50" text-anchor="end" font-weight="bold" fill="#303030" stroke="#303030" stroke-width="0.18">4</text>
<text x="217.40" y="464.31" font-size="4.50" text-anchor="end" font-weight="bold" fill="#303030" stroke="#303030" stroke-width="0.18">6</text>
<text x="217.40" y="449.46" font-size="4.50" text-anchor="end" font-weight="bold" fill="#303030" stroke="#303030" stroke-width="0.18">8</text>
<text x="217.40" y="434.60" font-size="4.50" text-anchor="end" font-weight="bold" fill="#303030" stroke="#303030" stroke-width="0.18">10</text>
<text x="217.40" y="419.75" font-size="4.50" text-anchor="end" font-weight="bold" fill="#303030" stroke="#303030" stroke-width="0.18">12</text>
<text x="217.40" y="404.90" font-size="4.50" text-anchor="end" font-weight="bold" fill="#303030" stroke="#303030" stroke-width="0.18">14</text>
<text x="217.40" y="390.05" font-size="4.50" text-anchor="end" font-weight="bold" fill="#303030" stroke="#303030" stroke-width="0.18">16</text>
<path d="M222.30,522.10 v1.6 M244.58,522.10 v1.6 M266.87,522.10 v1.6 M289.15,522.10 v1.6 M311.43,522.10 v1.6 M333.72,522.10 v1.6 M356.00,522.10 v1.6 M222.30,522.10 h-1.6 M222.30,507.25 h-1.6 M222.30,492.39 h-1.6 M222.30,477.54 h-1.6 M222.30,462.69 h-1.6 M222.30,447.84 h-1.6 M222.30,432.98 h-1.6 M222.30,418.13 h-1.6 M222.30,403.28 h-1.6 M222.30,388.43 h-1.6" stroke="#555555" stroke-width="1"/>
<text x="199.95" y="395.80" font-size="9.70" text-anchor="middle" font-weight="bold" fill="#222" stroke="#222" stroke-width="0.75" textLength="10.30" lengthAdjust="spacingAndGlyphs">(F)</text>
<line x1="223.80" y1="381.50" x2="228.60" y2="381.50" stroke="#a0e4a6" stroke-width="0.9" opacity="0.8"/>
<text transform="translate(229.50 383.37) scale(0.970 1)" font-size="5.20" text-anchor="start" font-weight="bold" fill="#222" stroke="#222" stroke-width="0.32" textLength="43.20" lengthAdjust="spacing">PaPBP3ΔTM:AZT</text>
<line x1="223.80" y1="390.20" x2="228.60" y2="390.20" stroke="#f2d4a0" stroke-width="0.9" opacity="0.8"/>
<text transform="translate(229.50 392.07) scale(0.970 1)" font-size="5.20" text-anchor="start" font-weight="bold" fill="#222" stroke="#222" stroke-width="0.32" textLength="42.27" lengthAdjust="spacing">PaPBP3ΔTM:AIC</text>
<line x1="223.80" y1="399.70" x2="228.60" y2="399.70" stroke="#c2c2c2" stroke-width="0.9" opacity="0.8"/>
<text transform="translate(229.50 401.57) scale(0.970 1)" font-size="5.20" text-anchor="start" font-weight="bold" fill="#222" stroke="#222" stroke-width="0.32" textLength="48.66" lengthAdjust="spacing">PaPBP3ΔTM:DMSO</text>
<text x="289.30" y="539.02" font-size="5.60" text-anchor="middle" font-weight="bold" fill="#303030" stroke="#303030" stroke-width="0.25" textLength="50.80" lengthAdjust="spacingAndGlyphs">Temperature [°C]</text>
<text x="203.30" y="448.50" font-size="6.00" text-anchor="middle" font-weight="bold" fill="#303030" stroke="#303030" stroke-width="0.25" textLength="49.60" lengthAdjust="spacingAndGlyphs" transform="rotate(-90 203.30 448.50)">First derivative of</text>
<text x="209.50" y="449.50" font-size="6.00" text-anchor="middle" font-weight="bold" fill="#303030" stroke="#303030" stroke-width="0.25" textLength="43.60" lengthAdjust="spacingAndGlyphs" transform="rotate(-90 209.50 449.50)">turbidity [mAU]</text>
</g>
</svg>
</body></html>
